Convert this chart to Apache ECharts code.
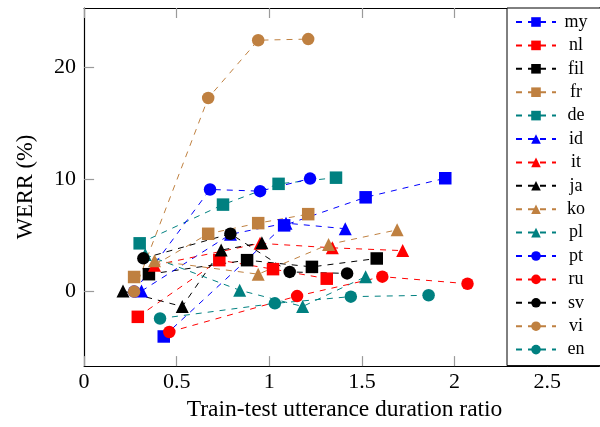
<!DOCTYPE html>
<html>
<head>
<meta charset="utf-8">
<script src="https://cdn.jsdelivr.net/npm/echarts@6/dist/echarts.min.js"></script>
<style>html,body{margin:0;padding:0;background:#fff}#c{width:600px;height:427px}</style>
</head>
<body>
<div id="c"></div>
<script>
// ---- data (x = train-test utterance duration ratio, y = WERR %) ----
const my  = [[0.43,-4.0],[1.08,5.9],[1.52,8.4],[1.95,10.1]];
const nl  = [[0.29,-2.25],[0.73,2.8],[1.02,2.0],[1.31,1.15]];
const fil = [[0.35,1.55],[0.88,2.8],[1.23,2.2],[1.58,2.95]];
const fr  = [[0.27,1.3],[0.67,5.15],[0.94,6.1],[1.21,6.9]];
const de  = [[0.30,4.3],[0.75,7.75],[1.05,9.6],[1.36,10.15]];
const id  = [[0.31,0.05],[0.79,5.1],[1.09,6.1],[1.41,5.6]];
const it  = [[0.38,2.35],[0.95,4.3],[1.34,3.9],[1.72,3.65]];
const ja  = [[0.21,0.05],[0.53,-1.33],[0.74,3.7],[0.96,4.35]];
const ko  = [[0.38,2.75],[0.94,1.55],[1.32,4.2],[1.69,5.5]];
const pl  = [[0.33,3.3],[0.84,0.12],[1.18,-1.33],[1.52,1.33]];
const pt  = [[0.27,0.0],[0.68,9.1],[0.95,8.95],[1.22,10.07]];
const ru  = [[0.46,-3.6],[1.15,-0.4],[1.61,1.33],[2.07,0.7]];
const sv  = [[0.32,2.96],[0.79,5.15],[1.11,1.75],[1.42,1.62]];
const vi  = [[0.27,0.0],[0.67,17.25],[0.94,22.4],[1.21,22.5]];
const en  = [[0.41,-2.4],[1.03,-1.05],[1.44,-0.45],[1.86,-0.33]];

const seriesNames = ['my','nl','fil','fr','de','id','it','ja','ko','pl','pt','ru','sv','vi','en'];
const seriesData  = [my, nl, fil, fr, de, id, it, ja, ko, pl, pt, ru, sv, vi, en];
const xTicks = [0, 0.5, 1, 1.5, 2, 2.5];
const yTicks = [0, 10, 20];

// ---- styles ----
const BLUE='#0000ff', RED='#ff0000', BLACK='#000000', BROWN='#bf8040', TEAL='#008080';
const colors  = [BLUE,RED,BLACK,BROWN,TEAL, BLUE,RED,BLACK,BROWN,TEAL, BLUE,RED,BLACK,BROWN,TEAL];
const symbols = ['rect','rect','rect','rect','rect','triangle','triangle','triangle','triangle','triangle','circle','circle','circle','circle','circle'];
const FONT = 'Liberation Serif';

const tickStyle = {show:true, inside:true, length:10, lineStyle:{color:'#9a9a9a', width:1.2}};

const series = seriesNames.map((n,i)=>({
  name:n, type:'line', data:seriesData[i],
  symbol:symbols[i], symbolSize: symbols[i]==='triangle'?13:12.5,
  showAllSymbol:true,
  lineStyle:{color:colors[i], width:1, type:[6,6]},
  itemStyle:{color:colors[i]},
  emphasis:{disabled:true},
  animation:false, clip:false
}));

const chart = echarts.init(document.getElementById('c'), null, {renderer:'canvas'});
chart.setOption({
  animation:false,
  grid:{left:84.1, top:8, width:514.9, height:359, containLabel:false},
  xAxis:[{
    type:'value', min:0, max:2.78, position:'bottom',
    axisLine:{show:true, onZero:false, lineStyle:{color:'#000', width:1.2}},
    axisTick:Object.assign({customValues:xTicks}, tickStyle),
    axisLabel:{customValues:xTicks, margin:5, color:'#000', fontFamily:FONT, fontSize:22,
      formatter:v=>String(v)},
    splitLine:{show:false},
    name:'Train-test utterance duration ratio', nameLocation:'middle', nameGap:31,
    nameTextStyle:{color:'#000', fontFamily:FONT, fontSize:23.5, padding:[0,0,0,6]}
  },{
    type:'value', min:0, max:2.78, position:'top',
    axisLine:{show:true, onZero:false, lineStyle:{color:'#000', width:1.2}},
    axisTick:Object.assign({customValues:xTicks}, tickStyle),
    axisLabel:{show:false}, splitLine:{show:false}
  }],
  yAxis:[{
    type:'value', min:-6.64, max:25.27, position:'left',
    axisLine:{show:true, onZero:false, lineStyle:{color:'#000', width:1.2}},
    axisTick:Object.assign({customValues:yTicks}, tickStyle),
    axisLabel:{customValues:yTicks, margin:8, color:'#000', fontFamily:FONT, fontSize:22},
    splitLine:{show:false},
    name:'WERR (%)', nameLocation:'middle', nameGap:47, nameRotate:90,
    nameTextStyle:{color:'#000', fontFamily:FONT, fontSize:22.5}
  },{
    type:'value', min:-6.64, max:25.27, position:'right',
    axisLine:{show:true, onZero:false, lineStyle:{color:'#000', width:1.2}},
    axisTick:{show:false}, axisLabel:{show:false}, splitLine:{show:false}
  }],
  legend:{
    orient:'vertical', left:507, top:8,
    data:seriesNames,
    backgroundColor:'#fff', borderColor:'#000', borderWidth:1,
    padding:[5,11,7,8],
    itemWidth:40, itemHeight:12, itemGap:5.4,
    formatter:'{t|{name}}',
    textStyle:{color:'#000', fontFamily:FONT, fontSize:18, lineHeight:18,
      rich:{t:{width:30, align:'center', fontFamily:FONT, fontSize:18, lineHeight:18, color:'#000'}}},
    selectedMode:false
  },
  series:series
});
</script>
</body>
</html>
